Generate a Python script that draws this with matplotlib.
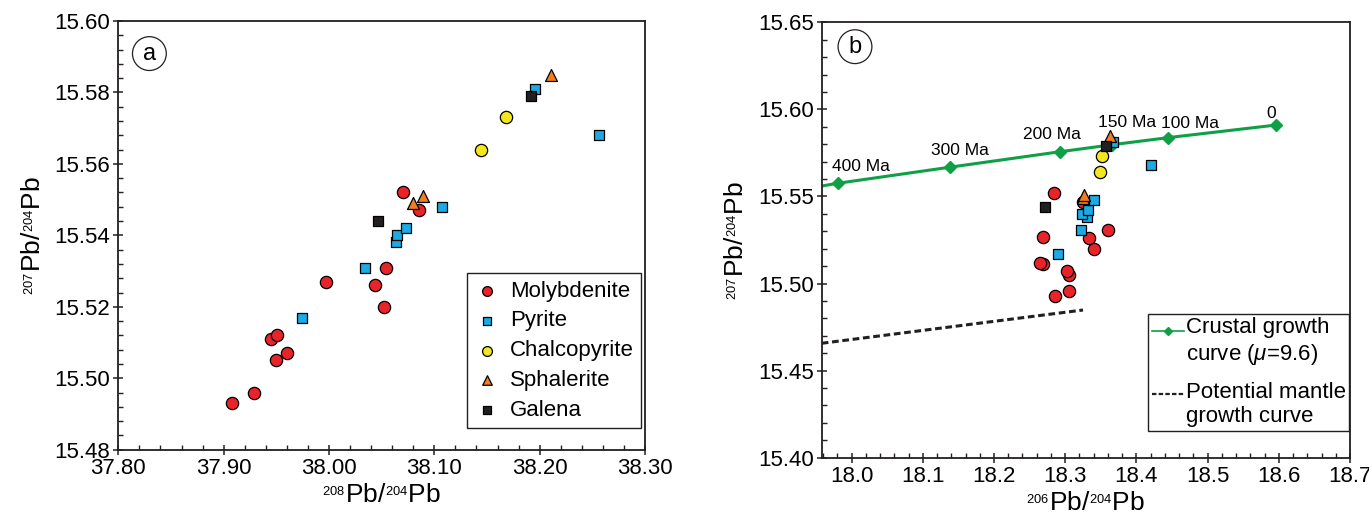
import matplotlib
matplotlib.use("Agg")
import matplotlib.pyplot as plt
from matplotlib.ticker import MultipleLocator, FormatStrFormatter
from matplotlib.lines import Line2D
from matplotlib.legend_handler import HandlerLine2D

plt.rcParams["font.family"] = ["Liberation Sans", "DejaVu Sans"]
plt.rcParams["mathtext.fontset"] = "custom"
plt.rcParams["mathtext.rm"] = "Liberation Sans"
plt.rcParams["mathtext.it"] = "Liberation Sans:italic"
plt.rcParams["mathtext.bf"] = "Liberation Sans:bold"
plt.rcParams["mathtext.default"] = "regular"

# ---- Lead isotope data (207Pb/204Pb shared by both diagrams) ----
mo_207 = [15.493, 15.496, 15.505, 15.507, 15.511, 15.512, 15.520, 15.526, 15.527, 15.531, 15.547, 15.552]
mo_208 = [37.908, 37.929, 37.950, 37.960, 37.945, 37.951, 38.052, 38.044, 37.997, 38.054, 38.085, 38.070]
mo_206 = [18.285, 18.306, 18.306, 18.302, 18.269, 18.265, 18.341, 18.334, 18.269, 18.360, 18.325, 18.284]

py_207 = [15.517, 15.531, 15.538, 15.540, 15.542, 15.548, 15.568, 15.581]
py_208 = [37.974, 38.034, 38.064, 38.065, 38.073, 38.107, 38.256, 38.196]
py_206 = [18.290, 18.322, 18.330, 18.323, 18.332, 18.340, 18.421, 18.367]

ccp_207 = [15.564, 15.573]
ccp_208 = [38.144, 38.168]
ccp_206 = [18.349, 18.352]

sp_207 = [15.549, 15.551, 15.585]
sp_208 = [38.080, 38.089, 38.211]
sp_206 = [18.325, 18.326, 18.363]

gn_207 = [15.544, 15.579]
gn_208 = [38.047, 38.192]
gn_206 = [18.272, 18.358]

# ---- Reference growth curves ----
crust_ages = ["400 Ma", "300 Ma", "200 Ma", "150 Ma", "100 Ma", "0"]
crust_206 = [17.981, 18.138, 18.293, 18.366, 18.445, 18.596]
crust_207 = [15.5576, 15.5668, 15.5757, 15.5797, 15.5838, 15.591]
crust_tail_206 = [17.958, 17.981]
crust_tail_207 = [15.556, 15.5576]

mantle_206 = [17.958, 18.325]
mantle_207 = [15.4657, 15.4848]

# label offsets (pixels) for the age annotations
age_offsets = [(23, 17), (10, 17), (-8, 17), (15, 22), (22, 14), (-5, 12)]

minerals = [
    ("Molybdenite", "o", "#E8232A", 78, mo_208, mo_206, mo_207),
    ("Pyrite", "s", "#1DA9E1", 62, py_208, py_206, py_207),
    ("Chalcopyrite", "o", "#F4E61C", 78, ccp_208, ccp_206, ccp_207),
    ("Sphalerite", "^", "#F07D22", 74, sp_208, sp_206, sp_207),
    ("Galena", "s", "#231F20", 62, gn_208, gn_206, gn_207),
]

AX = "#231F20"
GREEN = "#0FA046"
W, H = 1369, 519
fig = plt.figure(figsize=(W / 100, H / 100), dpi=100)
ax_a = fig.add_axes([118.3 / W, 1 - 449.7 / H, (645 - 118.3) / W, (449.7 - 21) / H])
ax_b = fig.add_axes([821.7 / W, 1 - 457.7 / H, (1350 - 821.7) / W, (457.7 - 22.3) / H])


def iso_label(a, b):
    # big element symbols with small raised mass numbers
    return r"${}^{{}_{%s}}$Pb/${}^{{}_{%s}}$Pb" % (a, b)


def style_axes(ax):
    for s in ax.spines.values():
        s.set_color(AX)
        s.set_linewidth(1.3)
    ax.tick_params(which="major", direction="inout", length=7.5, width=1.1,
                   color=AX, labelsize=16, pad=2, top=False, right=False)
    ax.tick_params(which="minor", direction="in", length=3.6, width=1.0,
                   color=AX, top=False, right=False)


class RaisedLineHandler(HandlerLine2D):
    """Line handle lifted to sit level with the first line of a two-line label."""

    def __init__(self, lift, **kw):
        super().__init__(**kw)
        self.lift = lift

    def create_artists(self, legend, orig_handle, xdescent, ydescent,
                       width, height, fontsize, trans):
        arts = super().create_artists(legend, orig_handle, xdescent, ydescent,
                                      width, height, fontsize, trans)
        for a in arts:
            a.set_ydata([y + self.lift * fontsize for y in a.get_ydata()])
        return arts


# ---- (a) 207Pb/204Pb vs 208Pb/204Pb ----
for name, mk, col, size, x208, x206, y207 in minerals:
    ax_a.scatter(x208, y207, marker=mk, s=size, c=col, edgecolors="black",
                 linewidths=0.9, label=name, zorder=3)
ax_a.set_xlim(37.80, 38.30)
ax_a.set_ylim(15.48, 15.60)
ax_a.xaxis.set_major_locator(MultipleLocator(0.1))
ax_a.xaxis.set_minor_locator(MultipleLocator(0.02))
ax_a.yaxis.set_major_locator(MultipleLocator(0.02))
ax_a.yaxis.set_minor_locator(MultipleLocator(0.004))
ax_a.xaxis.set_major_formatter(FormatStrFormatter("%.2f"))
ax_a.yaxis.set_major_formatter(FormatStrFormatter("%.2f"))
style_axes(ax_a)
ax_a.set_xlabel(iso_label("208", "204"), fontsize=19, labelpad=3)
ax_a.set_ylabel(iso_label("207", "204"), fontsize=19, labelpad=7)
leg_a = ax_a.legend(loc="lower right", bbox_to_anchor=(0.993, 0.05), fontsize=16,
                    markerscale=0.8, handlelength=1.2, handletextpad=0.45,
                    labelspacing=0.40, borderpad=0.32, borderaxespad=0,
                    frameon=True, fancybox=False, framealpha=1)
leg_a.get_frame().set_edgecolor(AX)
leg_a.get_frame().set_linewidth(1.0)
ax_a.text(0.059, 0.924, "a", transform=ax_a.transAxes, fontsize=17,
          ha="center", va="center",
          bbox=dict(boxstyle="circle,pad=0.25", fc="white", ec=AX, lw=0.9))

# ---- (b) 207Pb/204Pb vs 206Pb/204Pb ----
ax_b.plot(crust_tail_206, crust_tail_207, color=GREEN, lw=2.2, zorder=2)
ax_b.plot(crust_206, crust_207, color=GREEN, lw=2.2, marker="D", ms=6,
          mec=GREEN, mfc=GREEN, zorder=2)
ax_b.plot(mantle_206, mantle_207, color=AX, lw=2.2, ls=(0, (2.2, 1.2)), zorder=2)
for lab, x, y, (dx, dy) in zip(crust_ages, crust_206, crust_207, age_offsets):
    ax_b.annotate(lab, (x, y), xytext=(dx * 0.72, dy * 0.72), textcoords="offset points",
                  fontsize=12.5, ha="center", va="center", zorder=4)
for name, mk, col, size, x208, x206, y207 in minerals:
    ax_b.scatter(x206, y207, marker=mk, s=size, c=col, edgecolors="black",
                 linewidths=0.9, zorder=3)
ax_b.set_xlim(17.958, 18.70)
ax_b.set_ylim(15.40, 15.65)
ax_b.xaxis.set_major_locator(MultipleLocator(0.1))
ax_b.xaxis.set_minor_locator(MultipleLocator(0.02))
ax_b.yaxis.set_major_locator(MultipleLocator(0.05))
ax_b.yaxis.set_minor_locator(MultipleLocator(0.01))
ax_b.xaxis.set_major_formatter(FormatStrFormatter("%.1f"))
ax_b.yaxis.set_major_formatter(FormatStrFormatter("%.2f"))
style_axes(ax_b)
ax_b.set_xlabel(iso_label("206", "204"), fontsize=19, labelpad=3)
ax_b.set_ylabel(iso_label("207", "204"), fontsize=19, labelpad=7)
h_crust = Line2D([], [], color=GREEN, lw=1.2, marker="D", ms=4)
h_mantle = Line2D([], [], color=AX, lw=1.6, ls=(0, (2.0, 1.0)))
leg_b = ax_b.legend([h_crust, h_mantle],
                    ["Crustal growth\ncurve ($\\mathit{\\mu}$=9.6)", "Potential mantle\ngrowth curve"],
                    handler_map={Line2D: RaisedLineHandler(0.5)},
                    loc="lower right", bbox_to_anchor=(0.998, 0.062), fontsize=16,
                    handlelength=1.45, handletextpad=0.08, labelspacing=0.7,
                    borderpad=0.15, borderaxespad=0, frameon=True, fancybox=False,
                    framealpha=1)
leg_b.get_frame().set_edgecolor(AX)
leg_b.get_frame().set_linewidth(1.0)
ax_b.text(0.063, 0.944, "b", transform=ax_b.transAxes, fontsize=17,
          ha="center", va="center",
          bbox=dict(boxstyle="circle,pad=0.25", fc="white", ec=AX, lw=0.9))

fig.savefig("out.png", dpi=100)
